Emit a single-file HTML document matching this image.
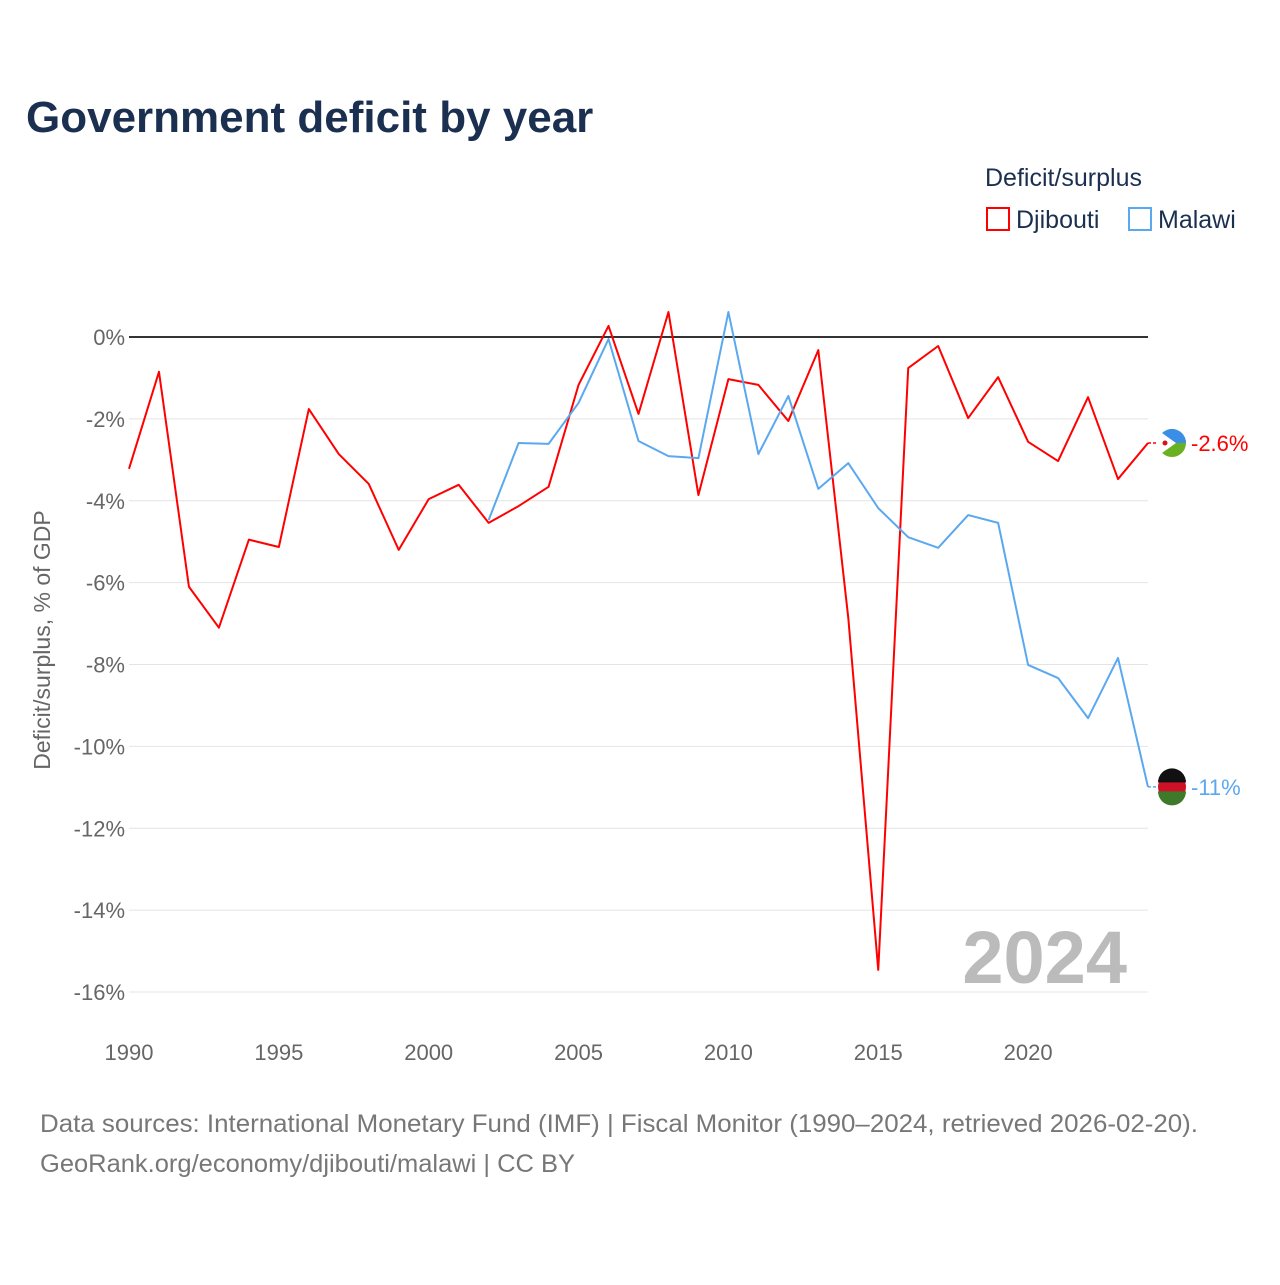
<!DOCTYPE html>
<html><head><meta charset="utf-8"><style>
body{margin:0;background:#fff;font-family:"Liberation Sans",sans-serif}
svg text{font-family:"Liberation Sans",sans-serif}
</style></head><body>
<svg id="c" width="1280" height="1280" xmlns="http://www.w3.org/2000/svg">
<text x="26" y="132" font-size="44" font-weight="bold" fill="#1b3050">Government deficit by year</text>
<text x="985" y="186" font-size="25" fill="#1b3050">Deficit/surplus</text>
<g><rect x="987" y="208" width="22" height="22" fill="none" stroke="#f00" stroke-width="2"/><text x="1016" y="228" font-size="25" fill="#1b3050">Djibouti</text></g>
<g><rect x="1129" y="208" width="22" height="22" fill="none" stroke="#5aa8f0" stroke-width="2"/><text x="1158" y="228" font-size="25" fill="#1b3050">Malawi</text></g>
<text transform="translate(50,640) rotate(-90)" text-anchor="middle" font-size="23" fill="#666">Deficit/surplus, % of GDP</text>
<g id="grid"></g><g id="ser"></g>
<text x="1127" y="983" text-anchor="end" font-size="74" font-weight="bold" fill="#bbb">2024</text>
<text x="40" y="1132" font-size="25" fill="#777" textLength="1158" lengthAdjust="spacingAndGlyphs">Data sources: International Monetary Fund (IMF) | Fiscal Monitor (1990–2024, retrieved 2026-02-20).</text>
<text x="40" y="1172" font-size="25" fill="#777" textLength="535" lengthAdjust="spacingAndGlyphs">GeoRank.org/economy/djibouti/malawi | CC BY</text>
</svg>
<script>
const yTicks=[0,-2,-4,-6,-8,-10,-12,-14,-16];
const xTicks=[1990,1995,2000,2005,2010,2015,2020];
const djYears=[1990,1991,1992,1993,1994,1995,1996,1997,1998,1999,2000,2001,2002,2003,2004,2005,2006,2007,2008,2009,2010,2011,2012,2013,2014,2015,2016,2017,2018,2019,2020,2021,2022,2023,2024];
const djibouti=[-3.22,-0.85,-6.1,-7.1,-4.95,-5.13,-1.76,-2.86,-3.59,-5.2,-3.96,-3.61,-4.54,-4.13,-3.66,-1.17,0.27,-1.88,0.61,-3.86,-1.03,-1.17,-2.05,-0.32,-6.86,-15.46,-0.76,-0.22,-1.98,-0.98,-2.56,-3.03,-1.47,-3.47,-2.59];
const mwYears=[2002,2003,2004,2005,2006,2007,2008,2009,2010,2011,2012,2013,2014,2015,2016,2017,2018,2019,2020,2021,2022,2023,2024];
const malawi=[-4.47,-2.59,-2.61,-1.61,-0.05,-2.54,-2.91,-2.96,0.61,-2.86,-1.44,-3.71,-3.08,-4.18,-4.89,-5.15,-4.35,-4.54,-8.01,-8.33,-9.31,-7.84,-10.99];
const X=y=>129+(y-1990)*29.97, Y=v=>337-v*40.94;
const NS="http://www.w3.org/2000/svg";
const g=document.getElementById('grid'), s=document.getElementById('ser');
function mk(t,a,p){const e=document.createElementNS(NS,t);for(const k in a)e.setAttribute(k,a[k]);p.appendChild(e);return e;}
yTicks.forEach(v=>{
 const l=mk('line',{x1:129,x2:1148,y1:Y(v),y2:Y(v),stroke:v===0?'#333':'#e4e4e4','stroke-width':v===0?2:1},g);
 
 
 const t=mk('text',{x:125,y:Y(v)+8,'text-anchor':'end','font-size':22,fill:'#666'},g);
 t.textContent=v+'%';
 
 
});
xTicks.forEach(y=>{
 const t=mk('text',{x:X(y),y:1060,'text-anchor':'middle','font-size':22,fill:'#666'},g);
 t.textContent=y;
 
 
});
function series(yrs,vals,col,name,lbl,flag){
 const p=mk('polyline',{points:yrs.map((y,i)=>X(y)+','+Y(vals[i])).join(' '),fill:'none',stroke:col,'stroke-width':2,'stroke-linejoin':'round'},s);
 
 
 const lv=vals[vals.length-1], ly=Y(lv);
 mk('line',{x1:1148,x2:1160,y1:ly,y2:ly,stroke:col,'stroke-width':1.5,'stroke-dasharray':'3,2'},s);
 const c=mk('g',{},s);
 
 
 flag(c,1172,ly);
 const t=mk('text',{x:1191,y:ly+8,'font-size':22,fill:col},s);
 t.textContent=lbl;
 
 
}
series(djYears,djibouti,'#f00','djibouti','-2.6%',(c,x,y)=>{
 mk('circle',{cx:x,cy:y,r:14,fill:'#6ab023'},c);
 mk('path',{d:`M${x-14},${y} A14,14 0 0 1 ${x+14},${y} Z`,fill:'#3a8ee6'},c);
 mk('path',{d:`M${x-10},${y-10} L${x+4},${y} L${x-10},${y+10} A14,14 0 0 1 ${x-10},${y-10}Z`,fill:'#fff'},c);
 mk('circle',{cx:x-7,cy:y,r:2.5,fill:'#d7141a'},c);
});
series(mwYears,malawi,'#5aa8f0','malawi','-11%',(c,x,y)=>{
 mk('circle',{cx:x,cy:y,r:14,fill:'#ce1126'},c);
 mk('path',{d:`M${x-14},${y-4.5} L${x+14},${y-4.5} A14,14 0 0 0 ${x-14},${y-4.5}Z`,fill:'#111'},c);
 mk('path',{d:`M${x-14},${y+4.5} L${x+14},${y+4.5} A14,14 0 0 1 ${x-14},${y+4.5}Z`,fill:'#3f7a2a'},c);
});
</script>
</body></html>
